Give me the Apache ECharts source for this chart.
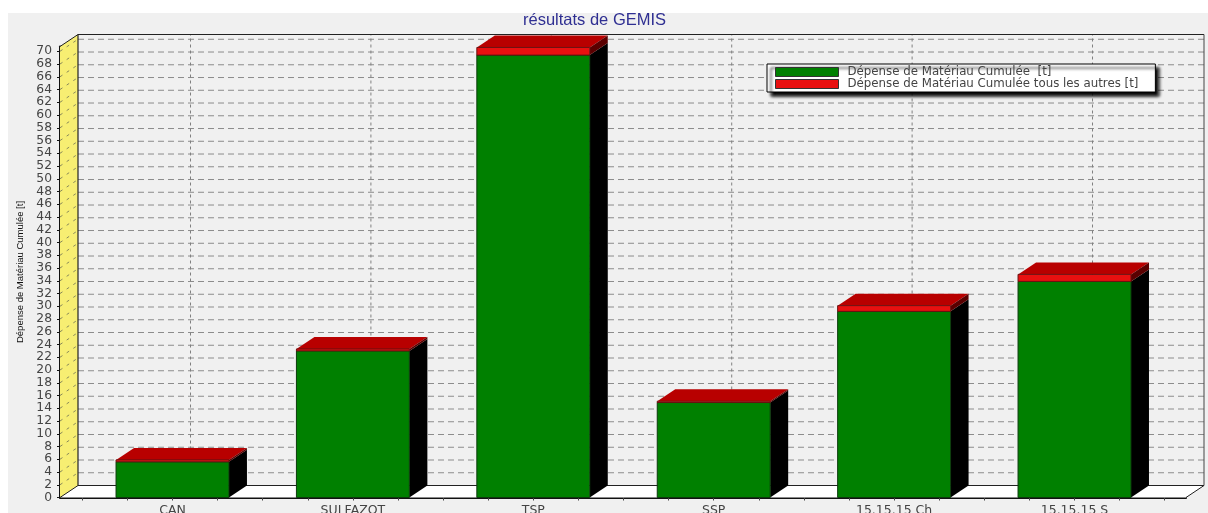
<!DOCTYPE html>
<html><head><meta charset="utf-8">
<style>html,body{margin:0;padding:0;background:#fff;overflow:hidden}#c{width:1208px;height:513px}</style>
<script src="https://cdn.jsdelivr.net/npm/echarts@6/dist/echarts.min.js"></script>
</head><body><div id="c"></div>
<script>
const categories = ['CAN','SULFAZOT','TSP','SSP','15.15.15 Ch','15.15.15 S'];
const cumulee = [5.6, 23.0, 69.4, 14.9, 29.2, 33.9];
const autres = [0.3, 0.3, 1.2, 0.2, 0.9, 1.1];
const seriesNames = ['Dépense de Matériau Cumulée  [t]','Dépense de Matériau Cumulée tous les autres [t]'];
const yTicks = [0,2,4,6,8,10,12,14,16,18,20,22,24,26,28,30,32,34,36,38,40,42,44,46,48,50,52,54,56,58,60,62,64,66,68,70];
const xTicks = [-0.5,-0.25,0,0.25,0.5,0.75,1,1.25,1.5,1.75,2,2.25,2.5,2.75,3,3.25,3.5,3.75,4,4.25,4.5,4.75,5,5.25,5.5];
const xLabelTicks = [0,1,2,3,4,5];

const DX = 18, DY = 12, X_MIN = -0.6236, X_MAX = 5.618, Y_MAX = 70.75, HALF = 0.313;

const poly = (points, fill, stroke, lw) => ({type:'polygon', shape:{points}, style:{fill, stroke: stroke||null, lineWidth: lw||0}});
const line = (a, b, stroke, lw, dash) => ({type:'line', shape:{x1:a[0],y1:a[1],x2:b[0],y2:b[1]}, style:{stroke, lineWidth:lw||1, lineDash:dash||null}});
const back = p => [p[0]+DX, p[1]-DY];

function renderFrame(params, api) {
  const bl = api.coord([X_MIN,0]), br = api.coord([X_MAX,0]), tl = api.coord([X_MIN,Y_MAX]), tr = api.coord([X_MAX,Y_MAX]);
  const kids = [];
  kids.push(poly([bl, back(bl), back(br), br], '#ffffff'));
  kids.push(poly([bl, tl, back(tl), back(bl)], '#f7ee72'));
  yTicks.forEach(v => {
    const a = api.coord([X_MIN,v]), b = api.coord([X_MAX,v]);
    if (v > 0) kids.push(line(back(a), back(b), '#8c8c8c', 1, [6,4]));
    if (v > 0) kids.push(line(a, back(a), '#8a8a5a', 1, [3,5]));
  });
  xLabelTicks.forEach(v => {
    kids.push(line(back(api.coord([v,0])), back(api.coord([v,Y_MAX])), '#808080', 1, [3,3]));
  });
  kids.push(line(back(tl), back(tr), '#222', 1.2));
  kids.push(line(back(tl), back(bl), '#222', 1.2));
  kids.push(line(back(bl), back(br), '#222', 1.2));
  kids.push(line(back(tr), back(br), '#444', 1));
  kids.push(line(tl, back(tl), '#222', 1));
  kids.push(line(bl, back(bl), '#222', 1));
  kids.push(line(br, back(br), '#222', 1));
  return {type:'group', children:kids};
}
function renderGreen(params, api) {
  const i = api.value(0), top = api.value(1), half = api.size([1,0])[0]*HALF;
  const c = api.coord([i,0]), t = api.coord([i,top]);
  const L = c[0]-half, R = c[0]+half;
  return {type:'group', children:[
    poly([[R,c[1]], [R,t[1]], back([R,t[1]]), back([R,c[1]])], '#000000'),
    {type:'rect', shape:{x:L,y:t[1],width:R-L,height:c[1]-t[1]}, style:{fill:'#008000', stroke:'#0c3a0c', lineWidth:1}}
  ]};
}
function renderRed(params, api) {
  const i = api.value(0), g = api.value(1), r = api.value(2), half = api.size([1,0])[0]*HALF;
  const c = api.coord([i,g]), t = api.coord([i,g+r]);
  const L = c[0]-half, R = c[0]+half;
  return {type:'group', children:[
    poly([[L,t[1]], [R,t[1]], back([R,t[1]]), back([L,t[1]])], '#b80000'),
    poly([[R,c[1]], [R,t[1]], back([R,t[1]]), back([R,c[1]])], '#5a0000'),
    {type:'rect', shape:{x:L,y:t[1],width:R-L,height:c[1]-t[1]}, style:{fill:'#e81010', stroke:'#6a1010', lineWidth:1}}
  ]};
}

const chart = echarts.init(document.getElementById('c'), null, {renderer:'canvas'});
chart.setOption({
  animation:false,
  backgroundColor:'#ffffff',
  graphic:[{type:'rect', z:-10, silent:true, shape:{x:8,y:13,width:1200,height:500}, style:{fill:'#f0f0f0'}}],
  title:{text:'résultats de GEMIS', left:523, top:12, padding:0,
    textStyle:{color:'#2f2f92', fontFamily:'Liberation Sans', fontSize:16.5, fontWeight:'normal'}},
  grid:{left:60, right:22, top:46.5, bottom:15.5, outerBoundsMode:'none'},
  legend:{orient:'vertical', left:767, top:64, selectedMode:false, padding:[2,17,2,8], itemGap:0,
    icon:'rect', itemWidth:63, itemHeight:9, backgroundColor:'#ffffff', borderColor:'#000', borderWidth:1,
    shadowColor:'#000', shadowBlur:3, shadowOffsetX:4, shadowOffsetY:4,
    itemStyle:{borderColor:'#333', borderWidth:1},
    textStyle:{color:'#444', fontFamily:'DejaVu Sans', fontSize:11.8, padding:[0,0,0,4]},
    data:seriesNames},
  xAxis:{type:'value', min:X_MIN, max:X_MAX, splitLine:{show:false},
    axisLine:{onZero:false, lineStyle:{color:'#111', width:2}},
    axisTick:{customValues:xTicks, length:3, lineStyle:{color:'#444'}},
    axisLabel:{customValues:xLabelTicks, margin:7, color:'#444', fontFamily:'DejaVu Sans', fontSize:12.5,
      formatter:v => categories[v]}},
  yAxis:{type:'value', min:0, max:Y_MAX, splitLine:{show:false},
    name:'Dépense de Matériau Cumulée [t]', nameLocation:'middle', nameGap:32, nameRotate:90,
    nameTextStyle:{color:'#111', fontFamily:'Liberation Sans', fontSize:9.5},
    axisLine:{show:true, onZero:false, lineStyle:{color:'#111', width:2}},
    axisTick:{customValues:yTicks, length:3, lineStyle:{color:'#111'}},
    axisLabel:{customValues:yTicks, margin:8, color:'#444', fontFamily:'DejaVu Sans', fontSize:12.3}},
  series:[
    {type:'custom', name:'frame', silent:true, z:1, renderItem:renderFrame, data:[[0,0]], encode:{x:0,y:1}},
    {type:'custom', name:seriesNames[0], z:2, renderItem:renderGreen, itemStyle:{color:'#008000'},
      encode:{x:0,y:1}, data:cumulee.map((v,i)=>[i,v])},
    {type:'custom', name:seriesNames[1], z:3, renderItem:renderRed, itemStyle:{color:'#e81010'},
      encode:{x:0,y:1}, data:autres.map((v,i)=>[i,cumulee[i],v])}
  ]
});
</script></body></html>
